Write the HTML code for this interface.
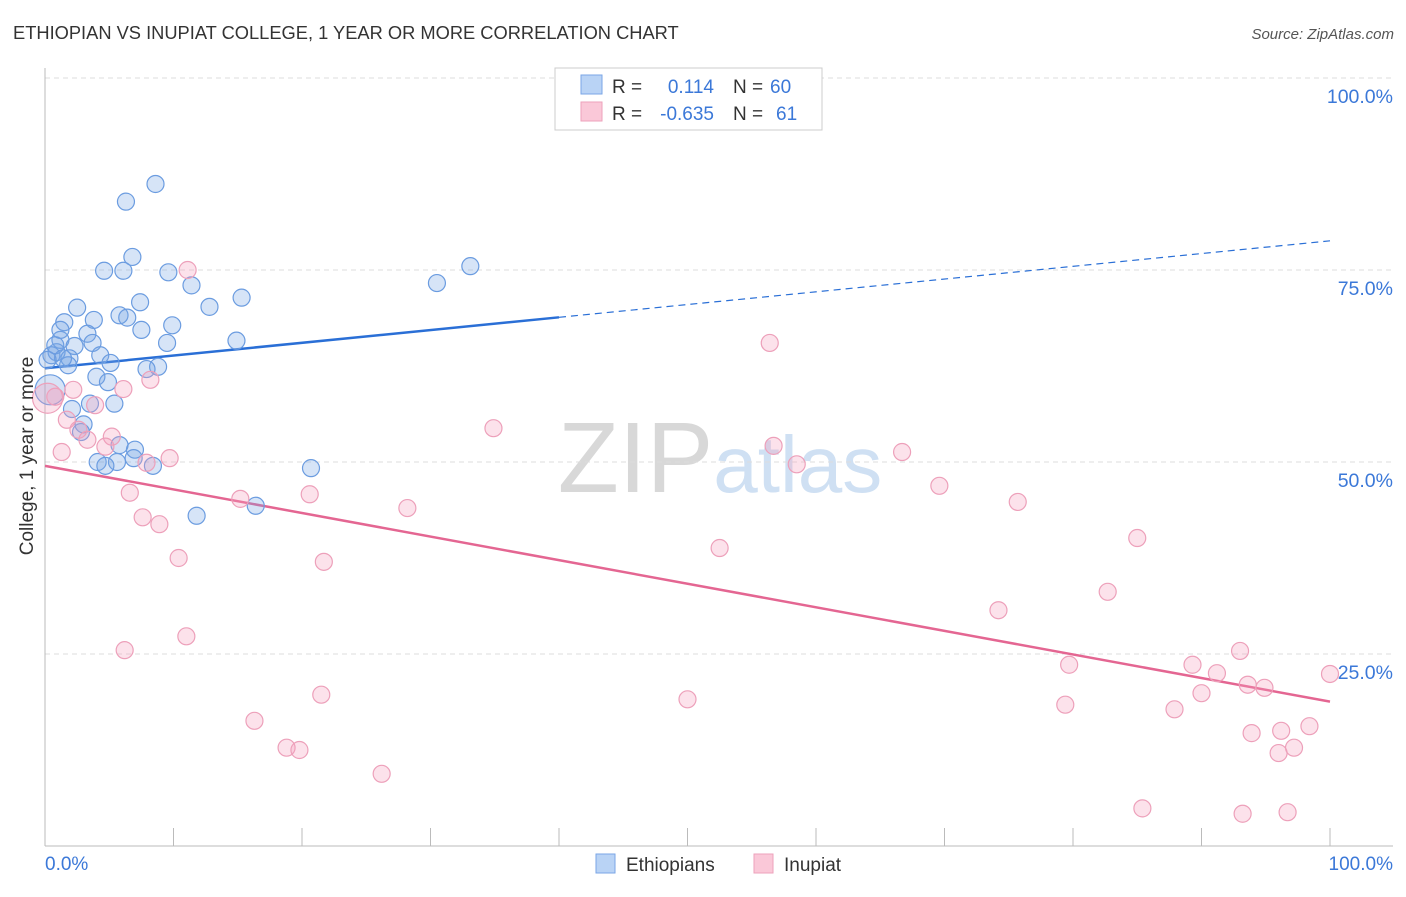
<!DOCTYPE html>
<html><head><meta charset="utf-8"><style>
body{margin:0;background:#fff;font-family:"Liberation Sans",sans-serif;}
svg text{font-family:"Liberation Sans",sans-serif;}
</style></head><body>
<svg id="chart" width="1406" height="892" xmlns="http://www.w3.org/2000/svg">
<text x="13" y="39" font-size="18.3" fill="#333">ETHIOPIAN VS INUPIAT COLLEGE, 1 YEAR OR MORE CORRELATION CHART</text>
<text x="1394" y="39" font-size="15" fill="#555" text-anchor="end" font-style="italic">Source: ZipAtlas.com</text>
<text x="720" y="492" font-size="100" fill="#ddd" text-anchor="middle" font-family="Liberation Serif"><tspan fill="#d8d8d8">ZIP</tspan><tspan fill="#cfe0f3" font-family="Liberation Sans" font-size="80">atlas</tspan></text>
<g id="grid"></g>
<g id="axes"></g>
<g id="trend"></g>
<g id="pts"></g>
<text transform="translate(33,456) rotate(-90)" font-size="19" fill="#333" text-anchor="middle">College, 1 year or more</text>
<g>
<rect x="555" y="68" width="267" height="62" fill="#fff" stroke="#ccc"/>
<rect x="581" y="75" width="21" height="19" fill="#b9d3f5" stroke="#7aa6e6"/>
<rect x="581" y="102" width="21" height="19" fill="#fac8d8" stroke="#eda2bb"/>
<text x="612" y="93" font-size="19" fill="#333">R =</text>
<text x="714" y="93" font-size="19" fill="#3b78d8" text-anchor="end">0.114</text>
<text x="733" y="93" font-size="19" fill="#333">N =</text>
<text x="770" y="93" font-size="19" fill="#3b78d8">60</text>
<text x="612" y="120" font-size="19" fill="#333">R =</text>
<text x="714" y="120" font-size="19" fill="#3b78d8" text-anchor="end">-0.635</text>
<text x="733" y="120" font-size="19" fill="#333">N =</text>
<text x="776" y="120" font-size="19" fill="#3b78d8">61</text>
</g>
<g>
<rect x="596" y="854" width="19" height="19" fill="#b9d3f5" stroke="#7aa6e6"/>
<text x="626" y="871" font-size="19" fill="#333">Ethiopians</text>
<rect x="754" y="854" width="19" height="19" fill="#fac8d8" stroke="#eda2bb"/>
<text x="784" y="871" font-size="19" fill="#333">Inupiat</text>
</g>
</svg>
<script>
const yTicks=[25,50,75,100];
const yTickLabels=["25.0%","50.0%","75.0%","100.0%"];
const xTicks=[0,10,20,30,40,50,60,70,80,90,100];
const ethX=[8.6,6.3,6.8,4.6,6.1,9.6,11.4,33.1,30.5,15.3,7.4,12.8,2.5,5.8,6.4,3.8,1.5,9.9,7.5,3.3,1.2,9.5,14.9,2.3,3.7,0.9,0.5,4.3,1.9,5.1,1.8,8.8,7.9,4.0,4.9,0.4,3.5,5.4,2.1,3.0,2.8,5.8,7.0,6.9,5.6,8.4,4.1,4.7,20.7,11.8,16.4,0.8,1.2,1.4,0.2];
const ethY=[86.2,83.9,76.7,74.9,74.9,74.7,73.0,75.5,73.3,71.4,70.8,70.2,70.1,69.1,68.8,68.5,68.2,67.8,67.2,66.7,65.9,65.5,65.8,65.1,65.5,64.3,63.9,63.9,63.5,62.9,62.6,62.4,62.1,61.1,60.4,59.4,57.6,57.6,56.9,54.9,53.9,52.2,51.6,50.5,50.0,49.5,50.0,49.5,49.2,43.0,44.3,65.2,67.2,63.5,63.3];
const inuX=[11.1,56.4,8.2,6.1,2.2,0.8,0.2,3.9,1.7,2.6,34.9,5.2,3.3,4.7,1.3,56.7,58.5,66.7,9.7,7.9,6.6,15.2,20.6,69.6,28.2,75.7,7.6,8.9,10.4,21.7,52.5,85.0,74.2,82.7,11.0,6.2,93.0,79.7,89.3,91.2,93.6,94.9,100,90.0,21.5,50.0,79.4,87.9,16.3,18.8,19.8,98.4,93.9,96.2,97.2,96.0,26.2,85.4,93.2,96.7];
const inuY=[75.0,65.5,60.7,59.5,59.4,58.5,58.3,57.4,55.5,54.2,54.4,53.3,52.9,52.0,51.3,52.1,49.7,51.3,50.5,49.9,46.0,45.2,45.8,46.9,44.0,44.8,42.8,41.9,37.5,37.0,38.8,40.1,30.7,33.1,27.3,25.5,25.4,23.6,23.6,22.5,21.0,20.6,22.4,19.9,19.7,19.1,18.4,17.8,16.3,12.8,12.5,15.6,14.7,15.0,12.8,12.1,9.4,4.9,4.2,4.4];
const ethTrend=[62.2,78.8];
const inuTrend=[49.5,18.8];
const NS="http://www.w3.org/2000/svg";
const sx=v=>45+v*12.85, sy=v=>846-v*7.68;
function mk(tag,attrs,parent){const e=document.createElementNS(NS,tag);for(const k in attrs)e.setAttribute(k,attrs[k]);parent.appendChild(e);return e;}
const grid=document.getElementById('grid'),axes=document.getElementById('axes'),trend=document.getElementById('trend'),pts=document.getElementById('pts');
yTicks.forEach((t,i)=>{
 const l=mk('line',{x1:45,x2:1393,y1:sy(t),y2:sy(t),stroke:'#ddd','stroke-dasharray':'5,4'},grid);
 
 
 const tx=mk('text',{x:1393,y:sy(t)+25,'font-size':19.5,fill:'#3b78d8','text-anchor':'end'},grid);
 tx.textContent=yTickLabels[i];
 
 
});
const ax=mk('line',{x1:45,x2:1393,y1:846,y2:846,stroke:'#bbb'},axes);


const ay=mk('line',{x1:45,x2:45,y1:68,y2:846,stroke:'#bbb'},axes);


xTicks.forEach(t=>{const l=mk('line',{x1:sx(t),x2:sx(t),y1:828,y2:846,stroke:'#bbb'},axes);
 
 });
const x0=mk('text',{x:45,y:870,'font-size':19,fill:'#3b78d8'},axes);x0.textContent='0.0%';


const x1=mk('text',{x:1393,y:870,'font-size':19,fill:'#3b78d8','text-anchor':'end'},axes);x1.textContent='100.0%';


function drawPts(X,Y,fill,stroke,name){X.forEach((x,i)=>{
 const r=(i===35&&name==='ethiopians-point')||(i===6&&name==='inupiat-point')?15:8.5;
 const c=mk('circle',{cx:sx(x),cy:sy(Y[i]),r:r,fill:fill,stroke:stroke,'stroke-width':1.2},pts);
 
 
});}
drawPts(ethX,ethY,'rgba(120,165,230,0.3)','#6b9ce0','ethiopians-point');
drawPts(inuX,inuY,'rgba(245,160,190,0.3)','#eda0ba','inupiat-point');
const ey=t=>ethTrend[0]+(ethTrend[1]-ethTrend[0])*t/100;
const b1=mk('line',{x1:sx(0),y1:sy(ey(0)),x2:sx(40),y2:sy(ey(40)),stroke:'#2a6fd6','stroke-width':2.5},trend);


const b2=mk('line',{x1:sx(40),y1:sy(ey(40)),x2:sx(100),y2:sy(ey(100)),stroke:'#2a6fd6','stroke-width':1.2,'stroke-dasharray':'7,5'},trend);


const p1=mk('line',{x1:sx(0),y1:sy(inuTrend[0]),x2:sx(100),y2:sy(inuTrend[1]),stroke:'#e46692','stroke-width':2.5},trend);


</script>
</body></html>
